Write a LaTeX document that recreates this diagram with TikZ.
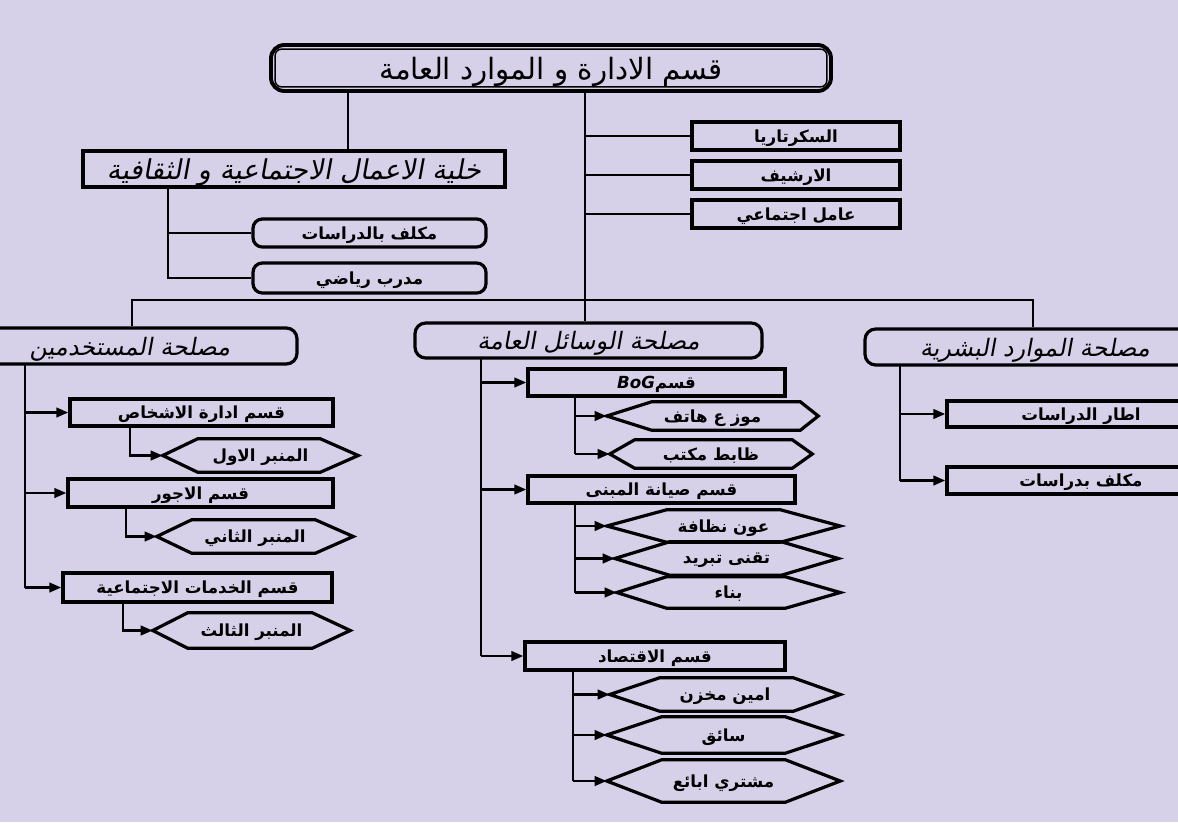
\documentclass[tikz,border=0pt]{standalone}
\usepackage{fontspec}
\usetikzlibrary{arrows.meta,calc}
\TeXXeTstate=1
\newfontfamily\arb[Script=Arabic]{DejaVu Sans}
\newfontfamily\arbsl[Script=Arabic,FakeSlant=0.18]{DejaVu Sans}
\newcommand\rtl[1]{\beginR #1\endR}
\definecolor{bgc}{RGB}{214,208,232}
\newcommand\hexdraw[3]{\draw[hexline] (#1.west) -- ([xshift=#2*0.75pt]#1.north west) -- ([xshift=-#3*0.75pt]#1.north east) -- (#1.east) -- ([xshift=-#3*0.75pt]#1.south east) -- ([xshift=#2*0.75pt]#1.south west) -- cycle;}
\begin{document}
\begin{tikzpicture}[x=0.75pt,y=-0.75pt,
  sz/.style 2 args={minimum width=#1*0.75pt, minimum height=#2*0.75pt},
  conn/.style={line width=2.1pt},
  arr/.style={line width=2.1pt,-{Triangle[length=9pt,width=7pt]}},
  tx/.style={text depth=0pt},
  sqbox/.style={draw, line width=2.4pt, inner sep=0pt, tx, font=\arb\bfseries\fontsize{12.5}{15}\selectfont},
  rbox/.style={sqbox, rounded corners=7pt},
  headbox/.style={draw, line width=2.4pt, inner sep=0pt, tx, rounded corners=8pt, font=\arbsl\fontsize{18}{21}\selectfont},
  topbox/.style={draw, line width=2.9pt, inner sep=0pt, tx, rounded corners=10pt, font=\arb\fontsize{22}{26}\selectfont},
  hexin/.style={inner sep=0pt, tx, font=\arb\bfseries\fontsize{12.5}{15}\selectfont},
  hexline/.style={line width=2.4pt, line join=miter}
]
\fill[bgc] (0,0) rectangle (1178,822);
\useasboundingbox (0,0) rectangle (1178,822);
\clip (0,0) rectangle (1178,822);

% top
\node[topbox,sz={560}{46}] (top) at (551,68) {\rtl{قسم الادارة و الموارد العامة}};
\draw[line width=1.1pt, rounded corners=5pt] ([shift={(4.5pt,-4.5pt)}]top.north west) rectangle ([shift={(-4.5pt,4.5pt)}]top.south east);

% secretary column
\node[sqbox,sz={208}{28}] (secr) at (796,136) {\rtl{السكرتاريا}};
\node[sqbox,sz={208}{28}] (arch) at (796,175) {\rtl{الارشيف}};
\node[sqbox,sz={208}{28}] (amel) at (796,214) {\rtl{عامل اجتماعي}};

% cell
\node[sqbox,sz={422}{36},font=\arbsl\fontsize{20.5}{24}\selectfont] (khal) at (294,169) {\rtl{خلية الاعمال الاجتماعية و الثقافية}};
\node[rbox,sz={233}{28}] (mukal) at (369.5,233) {\rtl{مكلف بالدراسات}};
\node[rbox,sz={233}{30}] (mudar) at (369.5,278) {\rtl{مدرب رياضي}};

% services
\node[headbox,sz={334}{36}] (mustak) at (130,346) {\rtl{مصلحة المستخدمين}};
\node[headbox,sz={347}{35}] (wasail) at (588.5,340.5) {\rtl{مصلحة الوسائل العامة}};
\node[headbox,sz={340}{36}] (bashar) at (1035,347) {\rtl{مصلحة الموارد البشرية}};

% left column
\node[sqbox,sz={263}{27}] (idara) at (201.5,412.5) {\rtl{قسم ادارة الاشخاص}};
\node[hexin,sz={195}{33}] (h1) at (260.5,455.5) {\rtl{المنبر الاول}};
\node[sqbox,sz={265}{28}] (ajour) at (200.5,493) {\rtl{قسم الاجور}};
\node[hexin,sz={196}{33}] (h2) at (255,536.5) {\rtl{المنبر الثاني}};
\node[sqbox,sz={269}{29}] (khad) at (197.5,587.5) {\rtl{قسم الخدمات الاجتماعية}};
\node[hexin,sz={197}{35}] (h3) at (251.5,630.5) {\rtl{المنبر الثالث}};

% middle column
\node[sqbox,sz={257}{27}] (bog) at (656.5,382.5) {\rtl{قسم\beginL\itshape BoG\endL}};
\node[hexin,sz={211}{28}] (h4) at (712.5,416) {\rtl{موز ع هاتف}};
\node[hexin,sz={202}{28}] (h5) at (711,454) {\rtl{ظابط مكتب}};
\node[sqbox,sz={267}{27}] (siy) at (661.5,489.5) {\rtl{قسم صيانة المبنى}};
\node[hexin,sz={233}{32}] (h6) at (723.5,526) {\rtl{عون نظافة}};
\node[hexin,sz={223}{33}] (h7) at (726.5,558.5) {\rtl{تقنى تبريد}};
\node[hexin,sz={223}{31}] (h8) at (728.5,592.5) {\rtl{بناء}};
\node[sqbox,sz={260}{28}] (eco) at (655,656) {\rtl{قسم الاقتصاد}};
\node[hexin,sz={230}{33}] (h9) at (725,694.5) {\rtl{امين مخزن}};
\node[hexin,sz={233}{36}] (h10) at (723.5,735) {\rtl{سائق}};
\node[hexin,sz={233}{42}] (h11) at (723.5,781) {\rtl{مشتري ابائع}};

% right column
\node[sqbox,sz={268}{26}] (itar) at (1081,414) {\rtl{اطار الدراسات}};
\node[sqbox,sz={268}{27}] (mukal2) at (1081,480.5) {\rtl{مكلف بدراسات}};

\hexdraw{h1}{35}{38}
\hexdraw{h2}{35}{38}
\hexdraw{h3}{35}{38}
\hexdraw{h4}{45}{18}
\hexdraw{h5}{25}{20}
\hexdraw{h6}{60}{60}
\hexdraw{h7}{55}{57}
\hexdraw{h8}{50}{55}
\hexdraw{h9}{50}{47}
\hexdraw{h10}{55}{55}
\hexdraw{h11}{55}{55}

% coordinates
\coordinate (tl) at (348,91);
\coordinate (tm) at (585,91);
\coordinate (ktr) at (168,187);
\coordinate (busL) at (132,300);
\coordinate (busR) at (1033,300);
\coordinate (ltr) at (25,364);
\coordinate (mtr) at (481,358);
\coordinate (rtr) at (900,365);
\coordinate (s1) at (130,426);
\coordinate (s2) at (126,507);
\coordinate (s3) at (123,602);
\coordinate (s4) at (575,396);
\coordinate (s5) at (575,503);
\coordinate (s6) at (573,670);

% top connectors
\draw[conn] (tl) -- (tl |- khal.north);
\draw[conn] (tm) -- (tm |- wasail.north);
\draw[conn] (tm |- secr.west) -- (secr.west);
\draw[conn] (tm |- arch.west) -- (arch.west);
\draw[conn] (tm |- amel.west) -- (amel.west);
\draw[conn] (ktr) -- (ktr |- mudar.west) -- (mudar.west);
\draw[conn] (ktr |- mukal.west) -- (mukal.west);
\draw[conn] (busL |- mustak.north) -- (busL) -- (busR) -- (busR |- bashar.north);

% left column
\draw[conn] (ltr) -- (ltr |- khad.west);
\draw[arr] (ltr |- idara.west) -- (idara.west);
\draw[arr] (ltr |- ajour.west) -- (ajour.west);
\draw[arr] (ltr |- khad.west) -- (khad.west);
\draw[arr] (s1) |- (h1.west);
\draw[arr] (s2) |- (h2.west);
\draw[arr] (s3) |- (h3.west);

% middle column
\draw[conn] (mtr) -- (mtr |- eco.west);
\draw[arr] (mtr |- bog.west) -- (bog.west);
\draw[arr] (mtr |- siy.west) -- (siy.west);
\draw[arr] (mtr |- eco.west) -- (eco.west);
\draw[conn] (s4) -- (s4 |- h5.west);
\draw[arr] (s4 |- h4.west) -- (h4.west);
\draw[arr] (s4 |- h5.west) -- (h5.west);
\draw[conn] (s5) -- (s5 |- h8.west);
\draw[arr] (s5 |- h6.west) -- (h6.west);
\draw[arr] (s5 |- h7.west) -- (h7.west);
\draw[arr] (s5 |- h8.west) -- (h8.west);
\draw[conn] (s6) -- (s6 |- h11.west);
\draw[arr] (s6 |- h9.west) -- (h9.west);
\draw[arr] (s6 |- h10.west) -- (h10.west);
\draw[arr] (s6 |- h11.west) -- (h11.west);

% right column
\draw[conn] (rtr) -- (rtr |- mukal2.west);
\draw[arr] (rtr |- itar.west) -- (itar.west);
\draw[arr] (rtr |- mukal2.west) -- (mukal2.west);
\end{tikzpicture}
\end{document}
